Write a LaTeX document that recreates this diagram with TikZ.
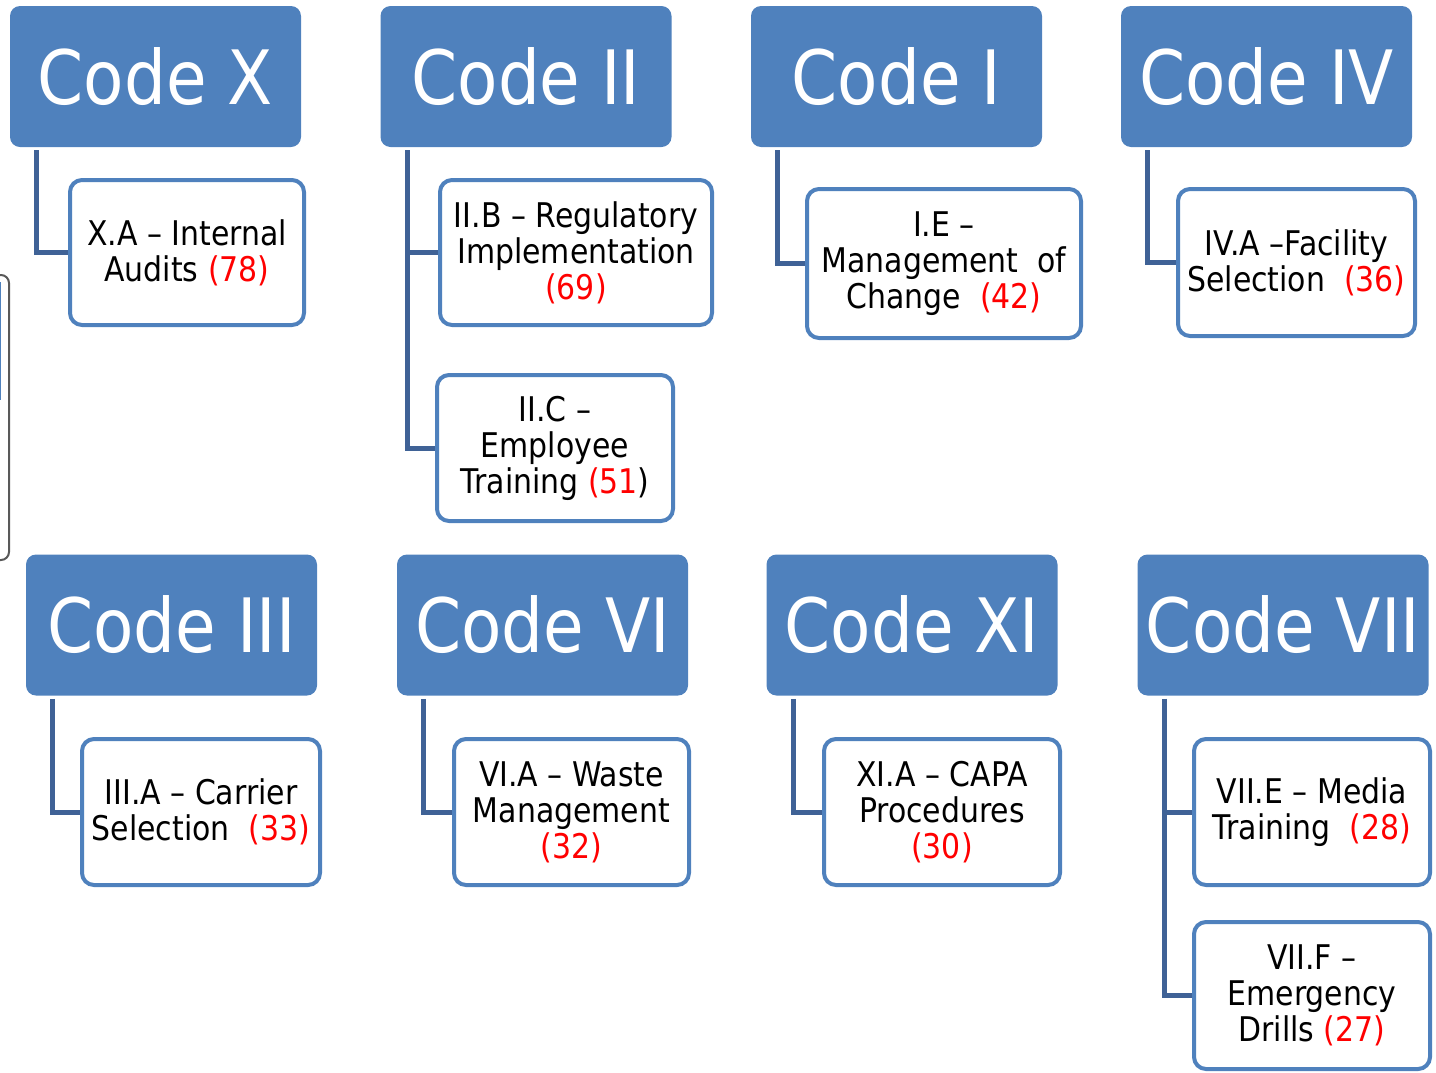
\documentclass[tikz,border=0pt]{standalone}
\usepackage{fontspec}
\setmainfont{DejaVu Sans}[FakeStretch=0.88]
\usepackage{tikz}

\definecolor{hdrblue}{RGB}{79,129,189}
\definecolor{linkblue}{RGB}{63,98,150}

\tikzset{
  head/.style={fill=hdrblue, rounded corners=5pt, text=white, inner sep=0pt,
    minimum width=145.5pt, minimum height=70.5pt,
    font=\fontsize{37.5}{40}\selectfont},
  leaf/.style={draw=hdrblue, line width=2pt, fill=white, rounded corners=6pt,
    align=center, inner sep=0pt, minimum width=118pt, minimum height=73pt,
    font=\fontsize{17}{18}\selectfont},
  link/.style={draw=linkblue, line width=2.5pt}
}

\begin{document}
\begin{tikzpicture}[x=0.5pt,y=-0.5pt]
  \useasboundingbox (0,0) rectangle (1436,1072);
  % cut-off panel at the left edge
  \draw[gray!70!black, line width=1pt, rounded corners=4pt] (-30,275) rectangle (9,560);
  \fill[hdrblue] (-10,282) rectangle (1,400);
  % code headers
  \node[head] (hX) at (155.5,76.5) {Code X};
  \node[head] (hII) at (526,76.5) {Code II};
  \node[head] (hI) at (896.5,76.5) {Code I};
  \node[head] (hIV) at (1266.5,76.5) {Code IV};
  \node[head] (hIII) at (171.5,625) {Code III};
  \node[head] (hVI) at (542.5,625) {Code VI};
  \node[head] (hXI) at (912,625) {Code XI};
  \node[head] (hVII) at (1283,625) {Code VII};
  % findings
  \node[leaf, minimum width=117pt, minimum height=72.5pt] (xa) at (187,252.5)
    {X.A -- Internal\\Audits \textcolor{red}{(78)}};
  \node[leaf, minimum width=136pt, minimum height=72.5pt] (iib) at (576,252.5)
    {II.B -- Regulatory\\Implementation\\\textcolor{red}{(69)}};
  \node[leaf] (iic) at (555,448)
    {II.C --\\Employee\\Training \textcolor{red}{(51})};
  \node[leaf, minimum width=137pt, minimum height=74.5pt] (ie) at (944,263.5)
    {I.E --\\Management~ of\\Change~ \textcolor{red}{(42)}};
  \node[leaf, minimum width=118.5pt, minimum height=73.5pt] (iva) at (1296.5,262.5)
    {IV.A --Facility\\Selection~ \textcolor{red}{(36)}};
  \node[leaf, minimum width=119pt] (iiia) at (201,812)
    {III.A -- Carrier\\Selection~ \textcolor{red}{(33)}};
  \node[leaf, minimum width=117.5pt] (via) at (571.5,812)
    {VI.A -- Waste\\Management\\\textcolor{red}{(32)}};
  \node[leaf] (xia) at (942,812)
    {XI.A -- CAPA\\Procedures\\\textcolor{red}{(30)}};
  \node[leaf] (viie) at (1312,812)
    {VII.E -- Media\\Training~ \textcolor{red}{(28)}};
  \node[leaf, minimum height=73.5pt] (viif) at (1312,995.5)
    {VII.F --\\Emergency\\Drills \textcolor{red}{(27)}};
  \foreach \from/\to in {hX/xa,hII/iib,hII/iic,hI/ie,hIV/iva,hIII/iiia,hVI/via,hXI/xia,hVII/viie,hVII/viif}
    \draw[link] ([xshift=13.5pt,yshift=-1.5pt]\from.south west) |- (\to.west);
\end{tikzpicture}
\end{document}
